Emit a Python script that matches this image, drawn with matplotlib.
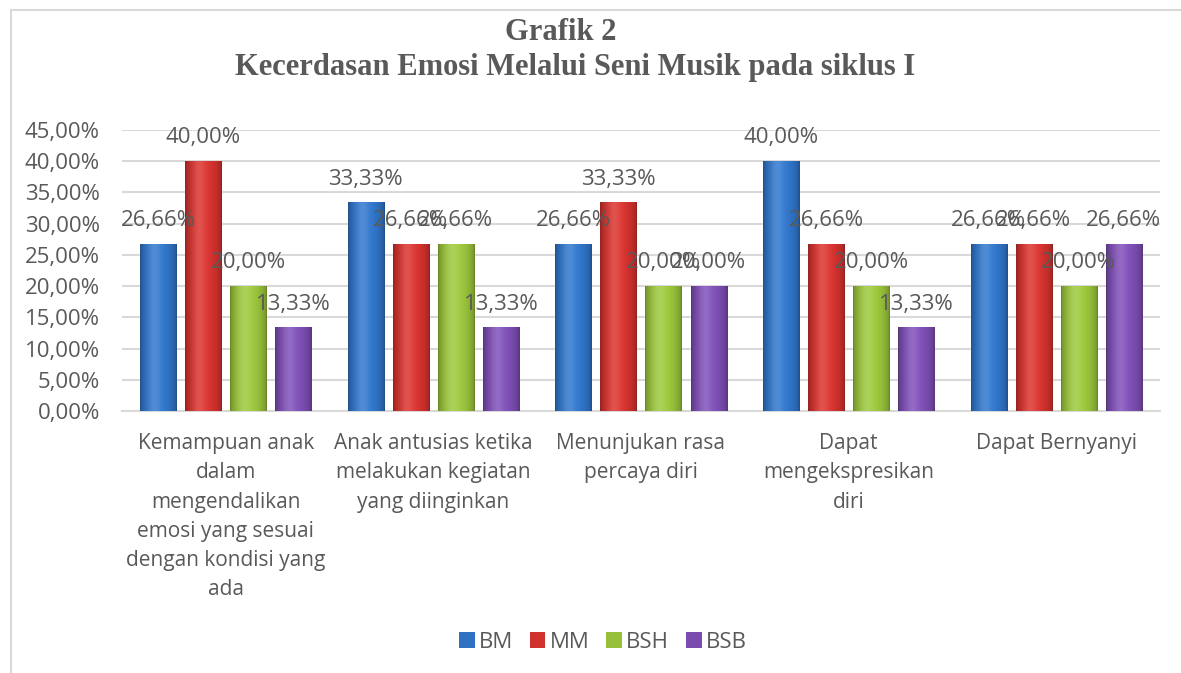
import numpy as np
import matplotlib
matplotlib.use("Agg")
import matplotlib.pyplot as plt
from matplotlib.colors import to_rgb
from matplotlib.patches import Rectangle

categories = [
    "Kemampuan anak\ndalam\nmengendalikan\nemosi yang sesuai\ndengan kondisi yang\nada",
    "Anak antusias ketika\nmelakukan kegiatan\nyang diinginkan",
    "Menunjukan rasa\npercaya diri",
    "Dapat\nmengekspresikan\ndiri",
    "Dapat Bernyanyi",
]
series_names = ["BM", "MM", "BSH", "BSB"]
BM = [26.66, 33.33, 26.66, 40.00, 26.66]
MM = [40.00, 26.66, 33.33, 26.66, 26.66]
BSH = [20.00, 26.66, 20.00, 20.00, 20.00]
BSB = [13.33, 13.33, 20.00, 13.33, 26.66]
series_values = [BM, MM, BSH, BSB]
colors = ["#2F72C4", "#D0312D", "#96BF3A", "#7A4CB0"]
yticks = [0, 5, 10, 15, 20, 25, 30, 35, 40, 45]

FONT = "Open Sans"
TXT = "#595959"

fig = plt.figure(figsize=(11.81, 6.73), dpi=100)
ax = fig.add_axes([122/1181, 1-411/673, (1160-122)/1181, (411-130)/673])

n = len(categories)
x = np.arange(n)
step = 0.217
width = 0.174
offsets = (np.arange(4) - 1.5) * step


def shade_img(color, ncol=64):
    base = np.array(to_rgb(color))
    t = np.linspace(0, 1, ncol)
    prof = np.sin(np.pi * t) ** 0.5
    img = np.zeros((2, ncol, 3))
    for i in range(ncol):
        f = 0.68 + 0.38 * prof[i]
        c = np.clip(base * f, 0, 1)
        hl = np.exp(-((t[i] - 0.38) / 0.18) ** 2) * 0.15
        c = c + (1 - c) * hl
        img[:, i, :] = c
    return img


for si, (name, vals, col) in enumerate(zip(series_names, series_values, colors)):
    bars = ax.bar(x + offsets[si], np.array(vals) / 100.0, width, color=col,
                  label=name, zorder=3, edgecolor="none")
    img = shade_img(col)
    for b, v in zip(bars, vals):
        bx, bw, bh = b.get_x(), b.get_width(), b.get_height()
        ax.imshow(img, extent=[bx, bx + bw, 0, bh], aspect="auto", zorder=4,
                  interpolation="bilinear")
        ax.annotate(f"{v:.2f}".replace(".", ",") + "%",
                    xy=(bx + bw / 2, bh), xytext=(0, 17), textcoords="offset points",
                    ha="center", va="center", fontsize=16, family=FONT, color=TXT,
                    zorder=5)

ax.set_xlim(-0.5, n - 0.5)
ax.set_ylim(0, 0.45)
ax.set_yticks([v / 100 for v in yticks])
ax.set_yticklabels([f"{v:.2f}".replace(".", ",") + "%" for v in yticks],
                   fontsize=16, family=FONT, color=TXT)
ax.set_xticks(x)
ax.set_xticklabels(categories, fontsize=15, family=FONT, color=TXT,
                   linespacing=1.51, va="top")
ax.tick_params(axis="x", length=0, pad=16)
ax.tick_params(axis="y", length=0, pad=16)
ax.grid(axis="y", color="#D9D9D9", linewidth=1.5, zorder=0)
ax.set_axisbelow(True)
for s in ["top", "right", "left"]:
    ax.spines[s].set_visible(False)
ax.spines["bottom"].set_color("#D9D9D9")
ax.spines["bottom"].set_linewidth(1.5)

fig.text(561/1181, 1 - 32/673, "Grafik 2", ha="center", va="center",
         fontsize=22, family="Liberation Serif", fontweight="bold", color=TXT)
fig.text(575/1181, 1 - 68/673, "Kecerdasan Emosi Melalui Seni Musik pada siklus I",
         ha="center", va="center", fontsize=22, family="Liberation Serif",
         fontweight="bold", color=TXT)

leg = fig.legend(loc="center", bbox_to_anchor=(603/1181, 1 - 642/673), ncol=4,
                 frameon=False, handlelength=0.7, handleheight=0.7,
                 handletextpad=0.2, columnspacing=0.75,
                 prop={"family": FONT, "size": 16})
for t in leg.get_texts():
    t.set_color(TXT)

fig.patches.append(Rectangle((11/1181, -0.02), 1.0, (673 - 10)/673 + 0.02,
                             transform=fig.transFigure, fill=False,
                             edgecolor="#D9D9D9", linewidth=1.5))

fig.savefig("out.png", dpi=100)
